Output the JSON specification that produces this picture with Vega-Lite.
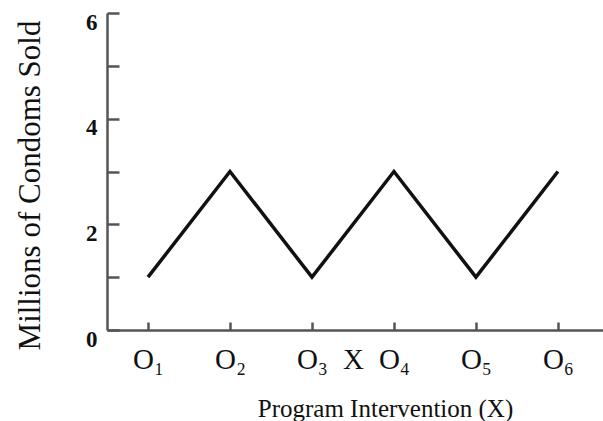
{
  "$schema": "https://vega.github.io/schema/vega-lite/v6.json",
  "width": 496,
  "height": 317,
  "autosize": {"type": "none"},
  "padding": {"left": 107, "top": 13, "right": 0, "bottom": 91},
  "background": "white",
  "config": {"view": {"stroke": null}, "font": "Liberation Serif"},
  "data": {"values": [
    {"obs": 1, "sold": 1},
    {"obs": 2, "sold": 3},
    {"obs": 3, "sold": 1},
    {"obs": 4, "sold": 3},
    {"obs": 5, "sold": 1},
    {"obs": 6, "sold": 3}
  ]},
  "mark": {"type": "line", "color": "#111", "strokeWidth": 3.5, "clip": false},
  "encoding": {
    "x": {
      "field": "obs", "type": "quantitative",
      "scale": {"domain": [0.5, 6.55], "nice": false, "zero": false},
      "axis": {
        "values": [1, 2, 3, 3.5, 4, 5, 6],
        "labelExpr": "datum.value == 1 ? 'O₁' : datum.value == 2 ? 'O₂' : datum.value == 3 ? 'O₃' : datum.value == 3.5 ? 'X' : datum.value == 4 ? 'O₄' : datum.value == 5 ? 'O₅' : 'O₆'",
        "title": "Program Intervention (X)",
        "titleFont": "Liberation Serif", "titleFontSize": 25, "titleFontWeight": "normal", "titleColor": "#111",
        "titleX": 278, "titleY": 78, "titleBaseline": "middle", "titleAlign": "center",
        "labelFont": "Liberation Serif", "labelFontSize": 29, "labelColor": "#111",
        "labelPadding": 23, "labelFlush": false, "labelOverlap": false,
        "domainColor": "#555", "domainWidth": 2.5,
        "tickColor": "#555", "tickWidth": 2.5, "tickSize": -8,
        "tickOpacity": {"condition": {"test": "datum.value == 3.5", "value": 0}, "value": 1},
        "grid": false
      }
    },
    "y": {
      "field": "sold", "type": "quantitative",
      "scale": {"domain": [0, 6], "nice": false},
      "axis": {
        "values": [0, 1, 2, 3, 4, 5, 6],
        "labelExpr": "datum.value % 2 == 0 ? datum.label : ''",
        "title": "Millions of Condoms Sold",
        "titleFont": "Liberation Serif", "titleFontSize": 31, "titleFontWeight": "normal", "titleColor": "#111",
        "titleAngle": -90, "titleX": -77, "titleY": 172, "titleBaseline": "middle", "titleAlign": "center",
        "labelFont": "Liberation Serif", "labelFontSize": 23, "labelFontWeight": "bold", "labelColor": "#111",
        "labelPadding": 22, "labelOffset": 9, "labelFlush": false, "labelOverlap": false,
        "domainColor": "#555", "domainWidth": 2.5,
        "tickColor": "#555", "tickWidth": 2.5, "tickSize": -12,
        "grid": false
      }
    }
  }
}
